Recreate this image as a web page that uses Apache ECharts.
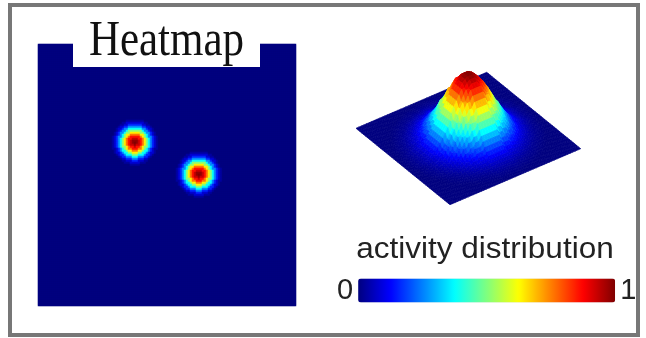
<!DOCTYPE html>
<html>
<head>
<meta charset="utf-8">
<script src="https://cdn.jsdelivr.net/npm/echarts@6/dist/echarts.min.js"></script>
<style>html,body{margin:0;padding:0;background:#fff}#c{width:646px;height:338px}</style>
</head>
<body>
<div id="c"></div>
<script>
// ---- data ----
const heatCols = 129;              // heatmap cells across
const heatRows = 131;              // heatmap cells down
const blobCenters = [[48, 48.7], [80, 64.7]];   // blob centres in cell units
// blob activity vs distance from centre (one entry per cell = 2 px)
const blobProfile = [1.00, 0.98, 0.93, 0.86, 0.76, 0.64, 0.51, 0.38, 0.26, 0.16, 0.08, 0.03, 0];
// 3D peak height vs distance from centre (steps of 0.02 of the plane side)
const peakProfile = [1.00, 0.99, 0.965, 0.925, 0.87, 0.80, 0.73, 0.65, 0.57, 0.49, 0.41, 0.34, 0.28,
                     0.22, 0.17, 0.13, 0.10, 0.075, 0.055, 0.04, 0.028, 0.018, 0.012, 0.006, 0];
const surfaceSteps = 50;
const barLabels = ['0', '1'];
const panelTitle = 'Heatmap';
const barTitle = 'activity distribution';
const jet = ['#00007f', '#0000ff', '#007fff', '#00ffff', '#7fff7f', '#ffff00', '#ff7f00', '#ff0000', '#7f0000'];

// ---- build series data ----
const xCats = [], yCats = [];
for (let i = 0; i < heatCols; i++) xCats.push(String(i));
for (let j = 0; j < heatRows; j++) yCats.push(String(j));
const heatData = [];
for (let j = 0; j < heatRows; j++) {
  for (let i = 0; i < heatCols; i++) {
    let v = 0;
    blobCenters.forEach(c => {
      const k = Math.round(Math.hypot(i - c[0], j - c[1]));
      if (k < blobProfile.length) v = Math.max(v, blobProfile[k]);
    });
    heatData.push([i, j, v]);
  }
}
function peakAt(i, j) {
  const k = Math.round(Math.hypot(i / surfaceSteps - 0.5, j / surfaceSteps - 0.5) / 0.02);
  return k < peakProfile.length ? peakProfile[k] : 0;
}
const surfaceData = [];
for (let j = 0; j < surfaceSteps; j++) {
  for (let i = surfaceSteps - 1; i >= 0; i--) {
    const z0 = peakAt(i, j), z1 = peakAt(i + 1, j), z2 = peakAt(i + 1, j + 1), z3 = peakAt(i, j + 1);
    surfaceData.push([i, j, (z0 + z1 + z2 + z3) / 4, z0, z1, z2, z3]);
  }
}
// oblique projection of the plane (grid-local units)
function project(u, v, z) {
  return [16 + u * 130.7 + v * 94, 68.3 - u * 56 + v * 76.4 - z * 65];
}

const chart = echarts.init(document.getElementById('c'), null, {renderer: 'canvas'});
chart.setOption({
  animation: false,
  backgroundColor: '#fff',
  grid: [
    {left: 38, top: 44, width: 258, height: 262},
    {left: 340, top: 60, width: 260, height: 160}
  ],
  xAxis: [
    {type: 'category', data: xCats, gridIndex: 0, show: false},
    {type: 'value', min: 0, max: 260, gridIndex: 1, show: false}
  ],
  yAxis: [
    {type: 'category', data: yCats, gridIndex: 0, inverse: true, show: false},
    {type: 'value', min: 0, max: 160, gridIndex: 1, inverse: true, show: false}
  ],
  visualMap: {
    type: 'continuous', min: 0, max: 1, dimension: 2, seriesIndex: [0, 1],
    orient: 'horizontal', calculable: false, hoverLink: false,
    left: 337, top: 276, padding: 0,
    itemWidth: 24, itemHeight: 257, textGap: 5,
    text: [barLabels[1], barLabels[0]],
    textStyle: {fontSize: 29, color: '#222', fontFamily: 'Liberation Sans'},
    inRange: {color: jet}
  },
  series: [
    {
      type: 'heatmap', xAxisIndex: 0, yAxisIndex: 0, data: heatData,
      progressive: 0, itemStyle: {borderWidth: 0}, emphasis: {disabled: true}
    },
    {
      type: 'custom', xAxisIndex: 1, yAxisIndex: 1, data: surfaceData, progressive: 0,
      renderItem: function (params, api) {
        const i = api.value(0), j = api.value(1);
        const corners = [[i, j, 3], [i + 1, j, 4], [i + 1, j + 1, 5], [i, j + 1, 6]];
        const pts = corners.map(c => api.coord(project(c[0] / surfaceSteps, c[1] / surfaceSteps, api.value(c[2]))));
        const col = api.visual('color');
        return {type: 'polygon', shape: {points: pts}, style: {fill: col, stroke: col, lineWidth: 0.7}};
      }
    }
  ],
  graphic: [
    {type: 'rect', z: 100, shape: {x: 10, y: 5, width: 628, height: 330},
     style: {fill: 'none', stroke: '#777', lineWidth: 4}},
    {type: 'rect', z: 100, shape: {x: 73, y: 43, width: 187, height: 24}, style: {fill: '#fff'}},
    {type: 'text', z: 101, x: 166.5, y: 42, scaleX: 0.86,
     style: {text: panelTitle, x: 0, y: 0, textAlign: 'center', textVerticalAlign: 'middle',
             font: '50px "Liberation Serif"', fill: '#111'}},
    {type: 'text', z: 101, x: 485, y: 250, scaleX: 1.05,
     style: {text: barTitle, x: 0, y: 0, textAlign: 'center', textVerticalAlign: 'middle',
             font: '30px "Liberation Sans"', fill: '#222'}}
  ]
});
</script>
</body>
</html>
